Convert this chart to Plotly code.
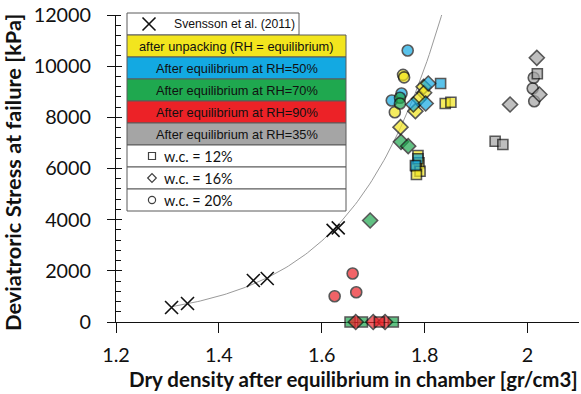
import numpy as np
import plotly.graph_objects as go

# ---------------- data ----------------
# Svensson et al. (2011)
sv_x = [1.308, 1.339, 1.467, 1.494, 1.622, 1.632]
sv_y = [567, 723, 1622, 1700, 3580, 3680]

# each series: dry density, deviatoric stress at failure, water content (%)
yel_x = [1.758, 1.760, 1.742, 1.798, 1.799, 1.789, 1.782, 1.753,
         1.840, 1.851, 1.787, 1.789, 1.784, 1.791, 1.784]
yel_y = [9660, 9560, 8201, 9194, 8960, 8725, 8240, 7615,
         8541, 8592, 6508, 6223, 6090, 5895, 5766]
yel_wc = [20, 20, 20, 16, 16, 16, 16, 16, 12, 12, 12, 12, 12, 12, 12]

blu_x = [1.767, 1.755, 1.736, 1.807, 1.778, 1.802, 1.831, 1.787, 1.782]
blu_y = [10613, 8932, 8659, 9323, 8502, 8541, 9323, 6379, 6118]
blu_wc = [20, 20, 20, 16, 16, 16, 12, 12, 12]

grn_x = [1.752, 1.752, 1.754, 1.768, 1.694, 1.655, 1.679, 1.739]
grn_y = [8764, 8541, 7044, 6872, 3968, 0, 0, 0]
grn_wc = [20, 20, 16, 16, 16, 12, 12, 12]

red_x = [1.660, 1.667, 1.625, 1.666, 1.700, 1.723, 1.712]
red_y = [1896, 1165, 1009, 0, 0, 0, 0]
red_wc = [20, 20, 20, 16, 16, 16, 12]

gry_x = [2.012, 2.010, 2.013, 2.018, 2.023, 1.966, 2.019, 1.937, 1.952]
gry_y = [9546, 9128, 8631, 10327, 8893, 8502, 9702, 7068, 6939]
gry_wc = [20, 20, 20, 16, 16, 16, 12, 12, 12]

legend_labels = [
    "after unpacking (RH = equilibrium)",
    "After equilibrium at RH=50%",
    "After equilibrium at RH=70%",
    "After equilibrium at RH=90%",
    "After equilibrium at RH=35%",
]
wc_labels = ["w.c. = 12%", "w.c. = 16%", "w.c. = 20%"]

# ---------------- styling ----------------
C_YEL = "#F2E51E"
C_BLU = "#13A9E2"
C_GRN = "#1FA84F"
C_RED = "#EC2227"
C_GRY = "#A5A5A5"
SYM = {12: "square", 16: "diamond", 20: "circle"}
SIZE = {12: 10, 16: 11.5, 20: 11}

W, H = 581, 394
ML, MR, MT, MB = 116, 2, 15, 72
PW, PH = W - ML - MR, H - MT - MB


def px(x):
    return (x - ML) / PW


def py(y):
    return (H - MB - y) / PH


fig = go.Figure()

# exponential trendline fitted to the Svensson data
b, ln_a = np.polyfit(sv_x, np.log(sv_y), 1)
tx = np.linspace(min(sv_x), 1.86, 120)
fig.add_trace(go.Scatter(x=tx, y=np.exp(ln_a) * np.exp(b * tx), mode="lines",
                         line=dict(color="#9A9A9A", width=1), hoverinfo="skip"))

for xs, ys, wcs, col in [(yel_x, yel_y, yel_wc, C_YEL),
                         (blu_x, blu_y, blu_wc, C_BLU),
                         (grn_x, grn_y, grn_wc, C_GRN),
                         (red_x, red_y, red_wc, C_RED),
                         (gry_x, gry_y, gry_wc, C_GRY)]:
    fig.add_trace(go.Scatter(
        x=xs, y=ys, mode="markers", cliponaxis=False,
        marker=dict(color=col, symbol=[SYM[w] for w in wcs],
                    size=[SIZE[w] for w in wcs],
                    line=dict(color="#111111", width=1.6))))

fig.add_trace(go.Scatter(x=sv_x, y=sv_y, mode="markers", cliponaxis=False,
                         marker=dict(symbol="x-thin", size=13,
                                     line=dict(color="#111111", width=1.6))))

# ---------------- legend box (Svensson) + key table ----------------
L = 127
R_SV = 299      # chart legend box
R_TAB = 346     # key table
ROW_T, ROW_H = 13, 22
row_fills = ["white", C_YEL, C_BLU, C_GRN, C_RED, C_GRY, "white", "white", "white"]
shapes = []
for i, fc in enumerate(row_fills):
    y0 = ROW_T + i * ROW_H
    right = R_SV if i == 0 else R_TAB
    shapes.append(dict(type="rect", xref="paper", yref="paper",
                       x0=px(L), x1=px(right), y0=py(y0), y1=py(y0 + ROW_H),
                       fillcolor=fc, line=dict(color="#5A5A5A", width=1)))

# cross symbol of the chart legend
cx, cy, s = 149, ROW_T + ROW_H / 2, 6.5
shapes.append(dict(type="line", xref="paper", yref="paper", x0=px(cx - s), x1=px(cx + s),
                   y0=py(cy - s), y1=py(cy + s), line=dict(color="#111111", width=1.6)))
shapes.append(dict(type="line", xref="paper", yref="paper", x0=px(cx - s), x1=px(cx + s),
                   y0=py(cy + s), y1=py(cy - s), line=dict(color="#111111", width=1.6)))

# water-content symbols
mx = 152
cy = ROW_T + 6 * ROW_H + ROW_H / 2
shapes.append(dict(type="rect", xref="paper", yref="paper", x0=px(mx - 3.5), x1=px(mx + 3.5),
                   y0=py(cy - 3.5), y1=py(cy + 3.5), line=dict(color="#404040", width=1.2)))
cy = ROW_T + 7 * ROW_H + ROW_H / 2
d = 4.3
shapes.append(dict(type="path", xref="paper", yref="paper",
                   path=f"M {px(mx - d)} {py(cy)} L {px(mx)} {py(cy - d)} L {px(mx + d)} {py(cy)} "
                        f"L {px(mx)} {py(cy + d)} Z",
                   line=dict(color="#404040", width=1.2)))
cy = ROW_T + 8 * ROW_H + ROW_H / 2
shapes.append(dict(type="circle", xref="paper", yref="paper", x0=px(mx - 3.6), x1=px(mx + 3.6),
                   y0=py(cy - 3.6), y1=py(cy + 3.6), line=dict(color="#404040", width=1.2)))

annotations = []
annotations.append(dict(xref="paper", yref="paper", x=px(172), y=py(ROW_T + ROW_H / 2),
                        text="Svensson et al. (2011)", showarrow=False, xanchor="left",
                        yanchor="middle",
                        font=dict(family="Liberation Sans, Arial", size=12.2, color="#111111")))
for i, lab in enumerate(legend_labels):
    annotations.append(dict(xref="paper", yref="paper", x=px((L + R_TAB) / 2),
                            y=py(ROW_T + (i + 1) * ROW_H + ROW_H / 2),
                            text=lab, showarrow=False, xanchor="center", yanchor="middle",
                            font=dict(family="Liberation Sans, Arial", size=12.8,
                                      color="#111111")))
for i, lab in enumerate(wc_labels):
    annotations.append(dict(xref="paper", yref="paper", x=px(162),
                            y=py(ROW_T + (i + 6) * ROW_H + ROW_H / 2),
                            text=lab, showarrow=False, xanchor="left", yanchor="middle",
                            font=dict(family="Lato", size=14.4, color="#111111")))

# axis titles
annotations.append(dict(xref="paper", yref="paper", x=px(353), y=py(379),
                        text="<b>Dry density after equilibrium in chamber [gr/cm3]</b>",
                        showarrow=False, xanchor="center", yanchor="middle",
                        font=dict(family="Lato", size=20.5, color="#111111")))
annotations.append(dict(xref="paper", yref="paper", x=px(12), y=py(173),
                        text="<b>Deviatroric Stress at failure [kPa]</b>", textangle=-90,
                        showarrow=False, xanchor="center", yanchor="middle",
                        font=dict(family="Lato", size=21.8, color="#111111")))

tickfont = dict(family="Lato", size=19.8, color="#111111")
fig.update_layout(
    width=W, height=H, margin=dict(l=ML, r=MR, t=MT, b=MB),
    paper_bgcolor="white", plot_bgcolor="white", showlegend=False,
    shapes=shapes, annotations=annotations,
    xaxis=dict(range=[1.2, 2.1], dtick=0.2, tick0=1.2, showgrid=False, zeroline=False,
               showline=True, linecolor="#111111", linewidth=1, ticks="outside",
               ticklen=10, tickcolor="#111111", tickfont=tickfont, layer="below traces",
               ticklabelstandoff=5),
    yaxis=dict(range=[0, 12000], dtick=2000, tickformat="d", showgrid=False, zeroline=False,
               showline=True, linecolor="#111111", linewidth=1, ticks="outside",
               ticklen=8, tickcolor="#111111", tickfont=tickfont, layer="below traces",
               minor=dict(dtick=400, ticks="inside", ticklen=5, tickcolor="#111111"),
               ticklabelstandoff=12),
    yaxis2=dict(range=[0, 12000], overlaying="y", matches="y", side="left", dtick=2000,
                showgrid=False, zeroline=False, showline=False, ticks="inside",
                ticklen=6, tickcolor="#111111", showticklabels=False),
)
fig.add_trace(go.Scatter(x=[None], y=[None], yaxis="y2", hoverinfo="skip"))

fig.write_html("out.html")
